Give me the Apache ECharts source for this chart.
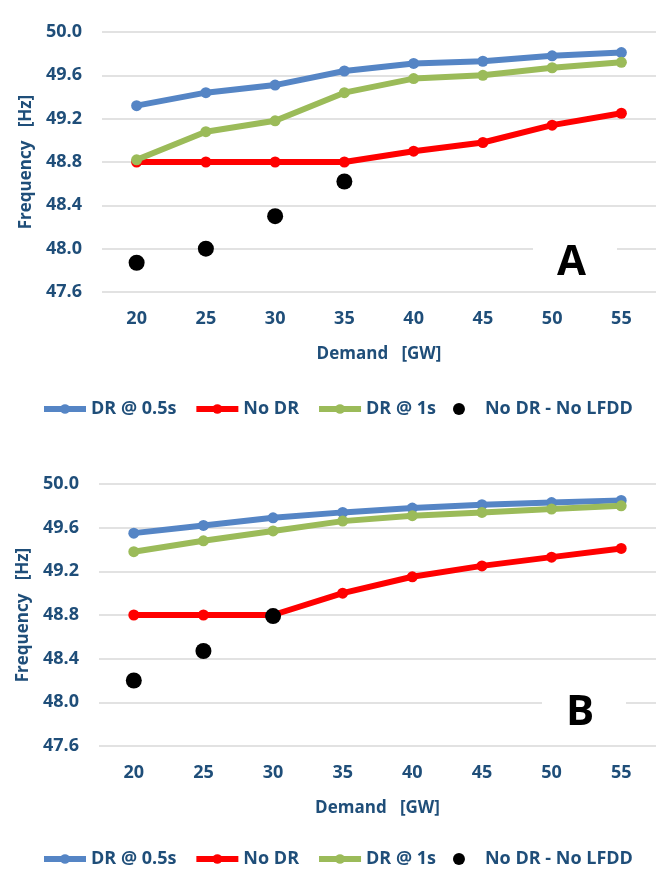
<!DOCTYPE html>
<html>
<head>
<meta charset="utf-8">
<script src="https://cdn.jsdelivr.net/npm/echarts@6/dist/echarts.min.js"></script>
<style>
html, body { margin: 0; padding: 0; background: #fff; }
#main { width: 656px; height: 871px; }
</style>
</head>
<body>
<div id="main"></div>
<script>
var demand = ['20', '25', '30', '35', '40', '45', '50', '55'];

// panel A
var drFastA = [49.32, 49.44, 49.51, 49.64, 49.71, 49.73, 49.78, 49.81];
var noDrA = [48.80, 48.80, 48.80, 48.80, 48.90, 48.98, 49.14, 49.25];
var drSlowA = [48.82, 49.08, 49.18, 49.44, 49.57, 49.60, 49.67, 49.72];
var noLfddA = [47.87, 48.00, 48.30, 48.62, null, null, null, null];

// panel B
var drFastB = [49.55, 49.62, 49.69, 49.74, 49.78, 49.81, 49.83, 49.85];
var noDrB = [48.80, 48.80, 48.80, 49.00, 49.15, 49.25, 49.33, 49.41];
var drSlowB = [49.38, 49.48, 49.57, 49.66, 49.71, 49.74, 49.77, 49.80];
var noLfddB = [48.20, 48.47, 48.79, null, null, null, null, null];

var txt = '#1f4e79';
var fnt = '"Open Sans", "Liberation Sans", sans-serif';
var names = ['DR @ 0.5s', 'No DR', 'DR @ 1s', 'No DR - No LFDD'];
var colors = ['#5585c5', '#ff0000', '#9bbb59', '#000000'];

function xAx(idx) {
  return {
    type: 'category', gridIndex: idx, data: demand,
    name: 'Demand   [GW]', nameLocation: 'middle', nameGap: 54,
    nameTextStyle: { color: txt, fontSize: 17, fontWeight: 'bold', fontFamily: fnt },
    axisLine: { show: false }, axisTick: { show: false },
    axisLabel: { color: txt, fontSize: 18, fontWeight: 'bold', fontFamily: fnt, margin: 18 }
  };
}
function yAx(idx) {
  return {
    type: 'value', gridIndex: idx, min: 47.6, max: 50.0, interval: 0.4,
    name: 'Frequency   [Hz]', nameLocation: 'middle', nameGap: 61,
    nameTextStyle: { color: txt, fontSize: 17, fontWeight: 'bold', fontFamily: fnt },
    axisLine: { show: false }, axisTick: { show: false },
    splitLine: { lineStyle: { color: '#d9d9d9', width: 1.5 } },
    axisLabel: {
      color: txt, fontSize: 18, fontWeight: 'bold', fontFamily: fnt, margin: 20,
      formatter: function (v) { return v.toFixed(1); }
    }
  };
}
function lineS(name, data, color, idx) {
  return {
    name: name, type: 'line', xAxisIndex: idx, yAxisIndex: idx, data: data,
    symbol: 'circle', symbolSize: 11, color: color,
    lineStyle: { width: 6, color: color }, itemStyle: { color: color },
    z: 3
  };
}
function dotS(name, data, idx) {
  return {
    name: name, type: 'scatter', xAxisIndex: idx, yAxisIndex: idx, data: data,
    symbol: 'circle', symbolSize: 16,
    itemStyle: { color: '#000', opacity: 1 }, z: 5
  };
}
function legend(top) {
  var ls = function (c) { return { width: 6, color: c }; };
  return {
    top: top, left: 36, itemGap: 17, itemWidth: 42, itemHeight: 12,
    textStyle: { color: txt, fontSize: 18, fontWeight: 'bold', fontFamily: fnt },
    data: [
      { name: names[0], lineStyle: ls(colors[0]) },
      { name: names[1], lineStyle: ls(colors[1]) },
      { name: names[2], lineStyle: ls(colors[2]) },
      { name: names[3], icon: 'circle', itemStyle: { color: '#000', opacity: 1 } }
    ]
  };
}
function panelLetter(letter, x, y) {
  return [
    { type: 'rect', left: x, top: y, z: 100, shape: { width: 84, height: 44 }, style: { fill: '#fff' } },
    { type: 'text', left: x + 24, top: y + 2, z: 101,
      style: { text: letter, fill: '#000', fontSize: 42, fontWeight: 'bold', fontFamily: fnt } }
  ];
}

var chart = echarts.init(document.getElementById('main'));
chart.setOption({
  backgroundColor: '#fff',
  animation: false,
  grid: [
    { left: 102, right: 0, top: 32, height: 260 },
    { left: 99, right: 0, top: 484, height: 262 }
  ],
  legend: [legend(395), legend(845)],
  xAxis: [xAx(0), xAx(1)],
  yAxis: [yAx(0), yAx(1)],
  series: [
    lineS(names[0], drFastA, colors[0], 0),
    lineS(names[1], noDrA, colors[1], 0),
    lineS(names[2], drSlowA, colors[2], 0),
    dotS(names[3], noLfddA, 0),
    lineS(names[0], drFastB, colors[0], 1),
    lineS(names[1], noDrB, colors[1], 1),
    lineS(names[2], drSlowB, colors[2], 1),
    dotS(names[3], noLfddB, 1)
  ],
  graphic: panelLetter('A', 533, 240).concat(panelLetter('B', 542, 690))
});
</script>
</body>
</html>
